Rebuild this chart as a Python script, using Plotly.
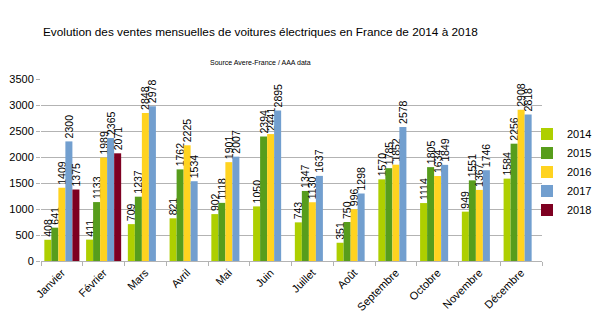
import plotly.graph_objects as go

months = ["Janvier", "Février", "Mars", "Avril", "Mai", "Juin", "Juillet",
          "Août", "Septembre", "Octobre", "Novembre", "Décembre"]
years = ["2014", "2015", "2016", "2017", "2018"]
v2014 = [408, 411, 709, 821, 902, 1050, 743, 351, 1570, 1114, 949, 1584]
v2015 = [641, 1133, 1237, 1762, 1118, 2394, 1347, 750, 1785, 1805, 1551, 2256]
v2016 = [1409, 1989, 2848, 2225, 1901, 2441, 1130, 996, 1852, 1634, 1367, 2908]
v2017 = [2300, 2365, 2978, 1534, 2007, 2895, 1637, 1298, 2578, 1849, 1746, 2818]
v2018 = [1375, 2071, None, None, None, None, None, None, None, None, None, None]
series = [v2014, v2015, v2016, v2017, v2018]
colors = ["#aecf00", "#579d1c", "#ffd320", "#729fcf", "#7e0021"]

fig = go.Figure()
for name, vals, col in zip(years, series, colors):
    fig.add_trace(go.Bar(
        x=months, y=vals, name=name, marker_color=col, marker_line_width=0,
        text=[("" if v is None else str(v)) for v in vals],
        textposition="outside", textangle=-90, constraintext="none",
        cliponaxis=False,
        textfont=dict(size=10.5, color="#000000", family="Liberation Sans"),
    ))

L, R, T, B = 41, 58, 79, 74
W, H = 600, 335
pw = W - L - R
ph = H - T - B

fig.update_layout(
    width=W, height=H,
    margin=dict(l=L, r=R, t=T, b=B, pad=0, autoexpand=False),
    barmode="group", bargap=0.16, bargroupgap=0,
    plot_bgcolor="white", paper_bgcolor="white",
    font=dict(family="Liberation Sans", color="#000000", size=11),
    showlegend=True,
    legend=dict(x=(527 - L) / pw, xanchor="left", y=(261 - 172) / ph, yanchor="middle",
                font=dict(size=11), itemwidth=30, tracegroupgap=0,
                bgcolor="rgba(0,0,0,0)"),
    xaxis=dict(showline=True, linecolor="#b3b3b3", linewidth=1,
               ticks="outside", tickson="boundaries", ticklen=4, tickcolor="#b3b3b3",
               tickangle=-45, tickfont=dict(size=11), showgrid=False),
    yaxis=dict(range=[0, 3500], dtick=500, showgrid=True, gridcolor="#b3b3b3",
               gridwidth=1, ticks="outside", ticklen=4, tickcolor="#b3b3b3",
               zeroline=False, showline=False, tickfont=dict(size=11)),
    annotations=[
        dict(text="Evolution des ventes mensuelles de voitures électriques en France de 2014 à 2018",
             xref="paper", yref="paper", x=(260 - L) / pw, y=(261 - 32) / ph,
             xanchor="center", yanchor="middle", showarrow=False,
             font=dict(size=11.8)),
        dict(text="Source Avere-France / AAA data",
             xref="paper", yref="paper", x=(260 - L) / pw, y=(261 - 62) / ph,
             xanchor="center", yanchor="middle", showarrow=False,
             font=dict(size=7)),
    ],
)

fig.write_html("out.html")
